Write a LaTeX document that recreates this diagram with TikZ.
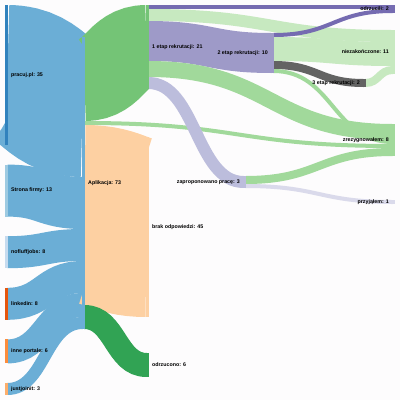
\documentclass[tikz,border=0pt]{standalone}
\usepackage{fontspec}
\setmainfont{Liberation Sans}
\usetikzlibrary{positioning,calc}

\definecolor{cbg}{HTML}{FDFCFD}
\definecolor{cpracuj}{HTML}{3182BD}
\definecolor{capl}{HTML}{6BAED6}
\definecolor{cstrona}{HTML}{9ECAE1}
\definecolor{cnofluff}{HTML}{C6DBEF}
\definecolor{clinkedin}{HTML}{E6550D}
\definecolor{cinne}{HTML}{FD8D3C}
\definecolor{cjust}{HTML}{FDAE6B}
\definecolor{cbrak}{HTML}{FDD0A2}
\definecolor{codrzucono}{HTML}{31A354}
\definecolor{cetapA}{HTML}{74C476}
\definecolor{czrez}{HTML}{A1D99B}
\definecolor{cniez}{HTML}{C7E9C0}
\definecolor{codrzucili}{HTML}{756BB1}
\definecolor{cetapB}{HTML}{9E9AC8}
\definecolor{czaprop}{HTML}{BCBDDC}
\definecolor{cprzyj}{HTML}{DADAEB}
\definecolor{cetapC}{HTML}{636363}

\pgfdeclarelayer{flows}
\pgfsetlayers{flows,main}

% colour, source, offset, target, offset, width
\newcommand{\sflow}[6]{%
  \draw[flowline, #1, line width=#6pt]
    let \p1=($(#2.north east)+(-0.6,#3)$), \p2=($(#4.north west)+(0.6,#5)$) in
    (\p1) .. controls ({0.5*\x1+0.5*\x2},\y1) and ({0.5*\x1+0.5*\x2},\y2) .. (\p2);}

\begin{document}
\begin{tikzpicture}
	[x=1pt, y=-1pt,
	 bar/.style={rectangle, anchor=north west, minimum width=3pt, inner sep=0pt, outer sep=0pt},
	 lbl/.style={inner sep=0pt, font=\fontsize{5.3}{6}\selectfont\bfseries},
	 flowline/.style={line cap=butt}]
	\useasboundingbox (0,0) rectangle (400,400);

	% sources
	\node[bar, fill=cpracuj, minimum height=140pt] (pracuj) at (5,5) {};
	\node[bar, fill=cstrona, minimum height=52pt] (strona) at (5,164.6) {};
	\node[bar, fill=cnofluff, minimum height=32pt] (nofluff) at (5,236.2) {};
	\node[bar, fill=clinkedin, minimum height=32pt] (linkedin) at (5,287.8) {};
	\node[bar, fill=cinne, minimum height=24pt] (inne) at (5,339.4) {};
	\node[bar, fill=cjust, minimum height=12pt] (justjoin) at (5,383) {};
	% stages
	\node[bar, fill=capl, minimum height=292pt] (aplikacja) at (82,37) {};
	\node[bar, fill=cetapA, minimum height=84pt] (etapA) at (146,5) {};
	\node[bar, fill=cbrak, minimum height=180pt] (brak) at (146,137) {};
	\node[bar, fill=codrzucono, minimum height=24pt] (odrzucono) at (146,353) {};
	\node[bar, fill=czaprop, minimum height=12pt] (zaprop) at (243,176) {};
	\node[bar, fill=cetapB, minimum height=40pt] (etapB) at (271,33) {};
	\node[bar, fill=cetapC, minimum height=8pt] (etapC) at (363,79) {};
	% outcomes
	\node[bar, fill=codrzucili, minimum height=8pt] (odrzucili) at (392,5) {};
	\node[bar, fill=cniez, minimum height=44pt] (niez) at (392,30) {};
	\node[bar, fill=czrez, minimum height=32pt] (zrez) at (392,124) {};
	\node[bar, fill=cprzyj, minimum height=4pt] (przyj) at (392,200) {};

	\begin{pgfonlayer}{flows}
	\fill[cbg] (0,0) rectangle (400,400);
	\sflow{capl}{pracuj}{70}{aplikacja}{70}{140}
	\sflow{capl}{strona}{26}{aplikacja}{166}{52}
	\sflow{capl}{nofluff}{16}{aplikacja}{208}{32}
	\sflow{capl}{linkedin}{16}{aplikacja}{240}{32}
	\sflow{capl}{inne}{12}{aplikacja}{268}{24}
	\sflow{capl}{justjoin}{6}{aplikacja}{286}{12}
	\sflow{cetapA}{aplikacja}{42}{etapA}{42}{84}
	\sflow{czrez}{aplikacja}{86}{zrez}{22}{4}
	\sflow{cbrak}{aplikacja}{178}{brak}{90}{180}
	\sflow{codrzucono}{aplikacja}{280}{odrzucono}{12}{24}
	\sflow{codrzucili}{etapA}{2}{odrzucili}{2}{4}
	\sflow{cniez}{etapA}{10}{niez}{6}{12}
	\sflow{cetapB}{etapA}{36}{etapB}{20}{40}
	\sflow{czrez}{etapA}{64}{zrez}{8}{16}
	\sflow{czaprop}{etapA}{78}{zaprop}{6}{12}
	\sflow{codrzucili}{etapB}{2}{odrzucili}{6}{4}
	\sflow{cniez}{etapB}{16}{niez}{24}{24}
	\sflow{cetapC}{etapB}{32}{etapC}{4}{8}
	\sflow{czrez}{etapB}{38}{zrez}{18}{4}
	\sflow{czrez}{zaprop}{4}{zrez}{28}{8}
	\sflow{cprzyj}{zaprop}{10}{przyj}{2}{4}
	\sflow{cniez}{etapC}{4}{niez}{40}{8}
	\end{pgfonlayer}

	% labels
	\node[lbl, right=3pt of pracuj] (pracujT) {pracuj.pl: 35};
	\node[lbl, right=3pt of strona] (stronaT) {Strona firmy: 13};
	\node[lbl, right=3pt of nofluff] (nofluffT) {nofluffjobs: 8};
	\node[lbl, right=3pt of linkedin] (linkedinT) {linkedin: 8};
	\node[lbl, right=3pt of inne] (inneT) {inne portale: 6};
	\node[lbl, right=3pt of justjoin] (justjoinT) {justjoinit: 3};
	\node[lbl, right=3pt of aplikacja] (aplikacjaT) {Aplikacja: 73};
	\node[lbl, right=3pt of etapA] (etapAT) {1 etap rekrutacji: 21};
	\node[lbl, right=3pt of brak] (brakT) {brak odpowiedzi: 45};
	\node[lbl, right=3pt of odrzucono] (odrzuconoT) {odrzucono: 6};
	\node[lbl, left=3pt of zaprop] (zapropT) {zaproponowano pracę: 3};
	\node[lbl, left=3pt of etapB] (etapBT) {2 etap rekrutacji: 10};
	\node[lbl, left=3pt of etapC] (etapCT) {3 etap rekrutacji: 2};
	\node[lbl, left=3pt of odrzucili] (odrzuciliT) {odrzucili: 2};
	\node[lbl, left=3pt of niez] (niezT) {niezakończone: 11};
	\node[lbl, left=3pt of zrez] (zrezT) {zrezygnowałem: 8};
	\node[lbl, left=3pt of przyj] (przyjT) {przyjąłem: 1};
\end{tikzpicture}
\end{document}
